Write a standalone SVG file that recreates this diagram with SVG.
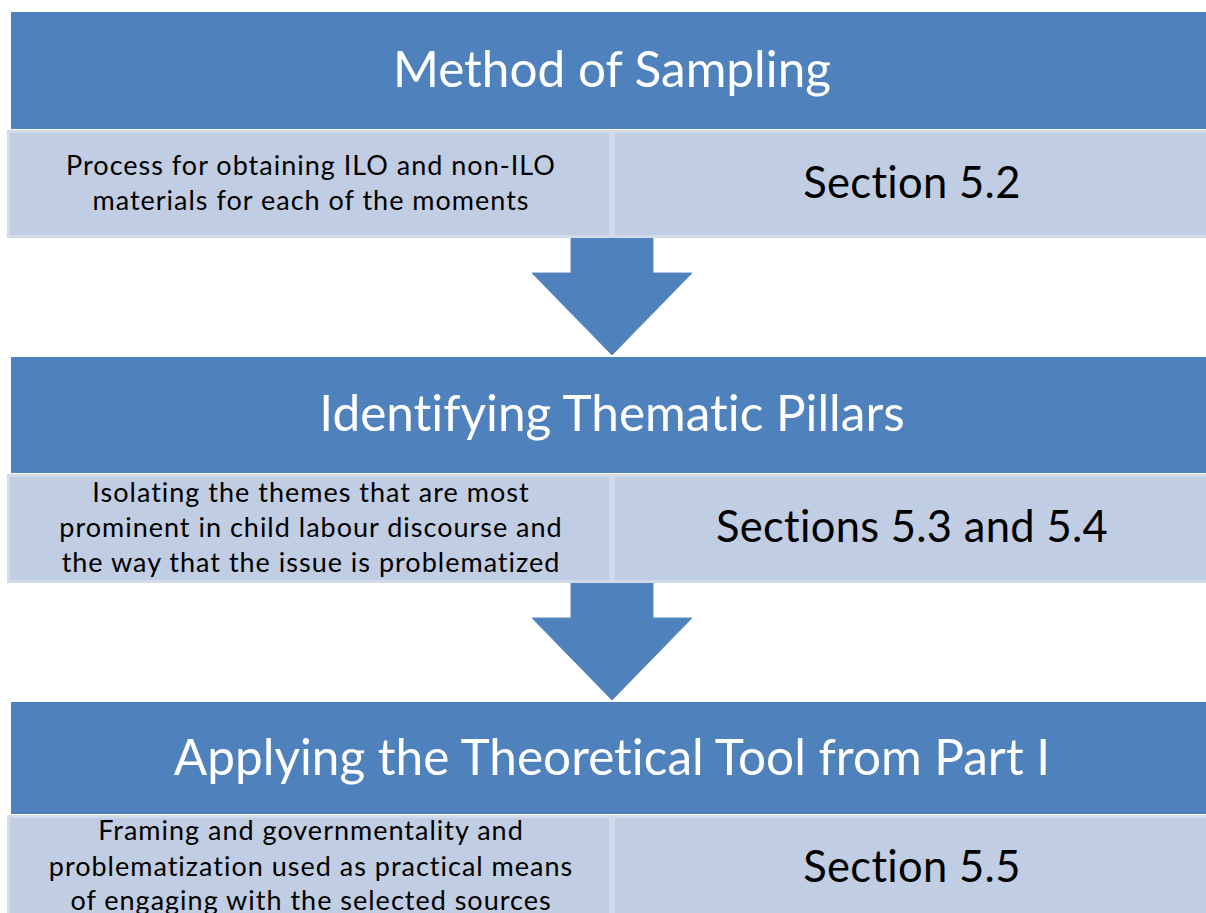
<svg xmlns="http://www.w3.org/2000/svg" width="1206" height="913" viewBox="0 0 1206 913">
<style>
.hdr{fill:#4f81bd}
.box{fill:#c1cde2;stroke:#d2dbea;stroke-width:3}
.arr{fill:#4f81bd;stroke:#5b8ac3;stroke-width:1}
text{font-family:Lato,"Liberation Sans",sans-serif;text-anchor:middle;font-variant-ligatures:none}
.ht{font-size:49.5px;fill:#ffffff}
.dt{font-size:27px;fill:#000000;letter-spacing:1px}
.st{font-size:43.5px;fill:#000000;letter-spacing:0.3px}
</style>
<rect width="1206" height="913" fill="#ffffff"/>
<g id="connectors">
<polygon class="arr" points="571,238 653,238 653,273 692,273 612,355 532,273 571,273"/>
<polygon class="arr" points="571,583 653,583 653,618 692,618 612,700 532,618 571,618"/>
</g>
<g id="step1">
<rect class="hdr" x="11" y="12" width="1200" height="117"/>
<text class="ht" x="612" y="87">Method of Sampling</text>
</g>
<g id="step1-desc">
<rect class="box" x="8.5" y="131.5" width="602" height="105"/>
<text class="dt" x="311" y="175">Process for obtaining ILO and non-ILO</text>
<text class="dt" x="311" y="210">materials for each of the moments</text>
</g>
<g id="step1-ref">
<rect class="box" x="613.5" y="131.5" width="600" height="105"/>
<text class="st" x="912" y="198">Section 5.2</text>
</g>
<g id="step2">
<rect class="hdr" x="11" y="357" width="1200" height="116"/>
<text class="ht" x="612" y="431">Identifying Thematic Pillars</text>
</g>
<g id="step2-desc">
<rect class="box" x="8.5" y="475.5" width="602" height="106"/>
<text class="dt" x="311" y="502">Isolating the themes that are most</text>
<text class="dt" x="311" y="537">prominent in child labour discourse and</text>
<text class="dt" x="311" y="572">the way that the issue is problematized</text>
</g>
<g id="step2-ref">
<rect class="box" x="613.5" y="475.5" width="600" height="106"/>
<text class="st" x="912" y="542">Sections 5.3 and 5.4</text>
</g>
<g id="step3">
<rect class="hdr" x="11" y="702" width="1200" height="112"/>
<text class="ht" x="612" y="775">Applying the Theoretical Tool from Part I</text>
</g>
<g id="step3-desc">
<rect class="box" x="8.5" y="816.5" width="602" height="110"/>
<text class="dt" x="311" y="840">Framing and governmentality and</text>
<text class="dt" x="311" y="876">problematization used as practical means</text>
<text class="dt" x="311" y="910">of engaging with the selected sources</text>
</g>
<g id="step3-ref">
<rect class="box" x="613.5" y="816.5" width="600" height="110"/>
<text class="st" x="912" y="882">Section 5.5</text>
</g>
</svg>
